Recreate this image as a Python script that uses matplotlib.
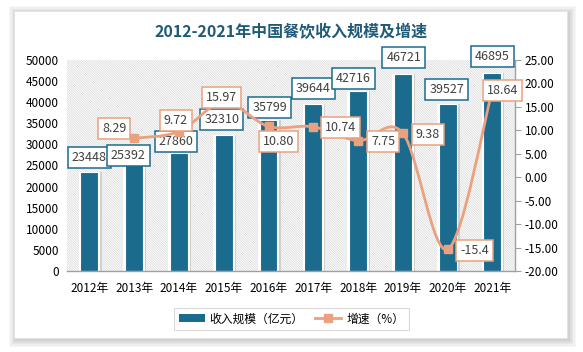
import matplotlib
matplotlib.use("Agg")
import matplotlib.pyplot as plt
from matplotlib.patches import Rectangle
from matplotlib.path import Path
from matplotlib.patches import PathPatch
from matplotlib.lines import Line2D
from matplotlib.patches import Patch

plt.rcParams['font.family'] = ['Noto Sans CJK SC', 'DejaVu Sans']
plt.rcParams['hatch.linewidth'] = 0.5

years = ["2012年", "2013年", "2014年", "2015年", "2016年", "2017年", "2018年", "2019年", "2020年", "2021年"]
revenue = [23448, 25392, 27860, 32310, 35799, 39644, 42716, 46721, 39527, 46895]
growth_years = ["2013年", "2014年", "2015年", "2016年", "2017年", "2018年", "2019年", "2020年", "2021年"]
growth = [8.29, 9.72, 15.97, 10.80, 10.74, 7.75, 9.38, -15.4, 18.64]
growth_labels = ["8.29", "9.72", "15.97", "10.80", "10.74", "7.75", "9.38", "-15.4", "18.64"]
left_ticks = list(range(0, 50001, 5000))
right_ticks = list(range(-20, 26, 5))

TEAL = "#1b6b8f"
ORANGE = "#eba17f"
TXT = "#404040"

fig = plt.figure(figsize=(5.83, 3.52), dpi=100)
fig.patch.set_facecolor("white")

# card shadow + card
for i, a in enumerate([0.03, 0.03, 0.03, 0.04, 0.05]):
    g = (5 - i) * 0.004
    fig.patches.append(Rectangle((0.024 - g * 0.6 + 0.003, 0.040 - g - 0.006), 0.949 + 2 * g * 0.6, 0.929 + 2 * g,
                                 transform=fig.transFigure, facecolor="black", edgecolor="none", alpha=a, zorder=0))
fig.patches.append(Rectangle((0.024, 0.040), 0.949, 0.929, transform=fig.transFigure,
                             facecolor="white", edgecolor="#e0e0e0", linewidth=0.5, zorder=1))

ax = fig.add_axes([0.115, 0.230, 0.768, 0.600])
ax.set_zorder(2)
ax.patch.set_facecolor("white")
x = list(range(len(years)))
ax.set_xlim(-0.5, len(years) - 0.5)
ax.set_ylim(0, 50000)

# hatched background
ax.add_patch(Rectangle((0, 0), 1, 1, transform=ax.transAxes, facecolor="white",
                       edgecolor="#d6d6d6", hatch="\\" * 14, linewidth=0, zorder=0))

# bar shadows
ax.bar([i + 0.06 for i in x], revenue, width=0.42, color="#bdbdbd", alpha=0.6, zorder=1, linewidth=0)
ax.bar(x, revenue, width=0.48, color="white", zorder=1.5, linewidth=0)
ax.bar(x, revenue, width=0.40, color=TEAL, edgecolor="white", linewidth=0.8, zorder=2)

bar_off = [(0, -14), (-6, -8), (-3, -12), (-2, -15), (1, -12), (0, -15), (-5, -12), (1, -16), (-1, -15), (0, -16)]
for i, v in enumerate(revenue):
    dx, dy = bar_off[i]
    ax.annotate(str(v), (x[i], v), xytext=(dx, -dy), textcoords="offset pixels",
                ha="center", va="center", fontsize=9, color=TXT, fontweight="medium", zorder=5,
                bbox=dict(boxstyle="square,pad=0.32", fc="white", ec=TEAL, lw=1.1))

ax.set_yticks(left_ticks)
ax.set_yticklabels([str(t) for t in left_ticks], fontsize=8.5, color="black")
ax.set_xticks(x)
ax.set_xticklabels(years, fontsize=8.5, color="black")
ax.tick_params(axis="y", length=0, pad=6)
ax.tick_params(axis="x", length=0, pad=8)
for s in ["top", "left", "right"]:
    ax.spines[s].set_visible(False)
ax.spines["bottom"].set_color("#a0a0a0")
ax.spines["bottom"].set_linewidth(1.0)

ax2 = ax.twinx()
ax2.set_ylim(-20, 25)
ax2.set_yticks(right_ticks)
ax2.set_yticklabels(["%.2f" % t for t in right_ticks], fontsize=8.5, color="black")
ax2.tick_params(axis="y", length=4, color="#a0a0a0", pad=3)
for s in ["top", "left", "bottom"]:
    ax2.spines[s].set_visible(False)
ax2.spines["right"].set_color("#a0a0a0")
ax2.spines["right"].set_linewidth(1.0)

gx = [years.index(y) for y in growth_years]
pts = list(zip(gx, growth))
verts = [pts[0]]
codes = [Path.MOVETO]
n = len(pts)
for i in range(n - 1):
    p0 = pts[i - 1] if i > 0 else pts[i]
    p1 = pts[i]
    p2 = pts[i + 1]
    p3 = pts[i + 2] if i + 2 < n else pts[i + 1]
    c1 = (p1[0] + (p2[0] - p0[0]) / 6, p1[1] + (p2[1] - p0[1]) / 6)
    c2 = (p2[0] - (p3[0] - p1[0]) / 6, p2[1] - (p3[1] - p1[1]) / 6)
    verts += [c1, c2, p2]
    codes += [Path.CURVE4] * 3
ax2.add_patch(PathPatch(Path(verts, codes), facecolor="none", edgecolor=ORANGE, lw=2.0, zorder=3))
ax2.plot(gx, growth, linestyle="none", marker="s", markersize=6, color=ORANGE, zorder=4)

line_off = [(-20, -10), (-3, -11), (-2, -5), (10, 15), (27, 1), (25, 1), (25, 1), (27, 1), (10, 1)]
for i, v in enumerate(growth):
    dx, dy = line_off[i]
    ax2.annotate(growth_labels[i], (gx[i], v), xytext=(dx, -dy), textcoords="offset pixels",
                 ha="center", va="center", fontsize=9, color=TXT, fontweight="medium", zorder=6,
                 bbox=dict(boxstyle="square,pad=0.32", fc="white", ec=ORANGE, lw=1.1))

fig.text(0.5, 0.909, "2012-2021年中国餐饮收入规模及增速", ha="center", va="center",
         fontsize=11.5, fontweight="bold", color="#1f5a78", zorder=3)

handles = [Patch(facecolor=TEAL, edgecolor="none"),
           Line2D([0], [0], color=ORANGE, lw=2, marker="s", markersize=6)]
leg = fig.legend(handles, ["收入规模（亿元）", "增速（%）"], loc="center", bbox_to_anchor=(0.5, 0.094),
                 ncol=2, fontsize=8.5, frameon=True, fancybox=False, edgecolor="#d0d0d0",
                 handlelength=2.2, columnspacing=1.0, handletextpad=0.4, borderpad=0.4)
leg.get_frame().set_linewidth(0.8)
leg.set_zorder(3)

fig.savefig("out.png", dpi=100, facecolor=fig.get_facecolor())
